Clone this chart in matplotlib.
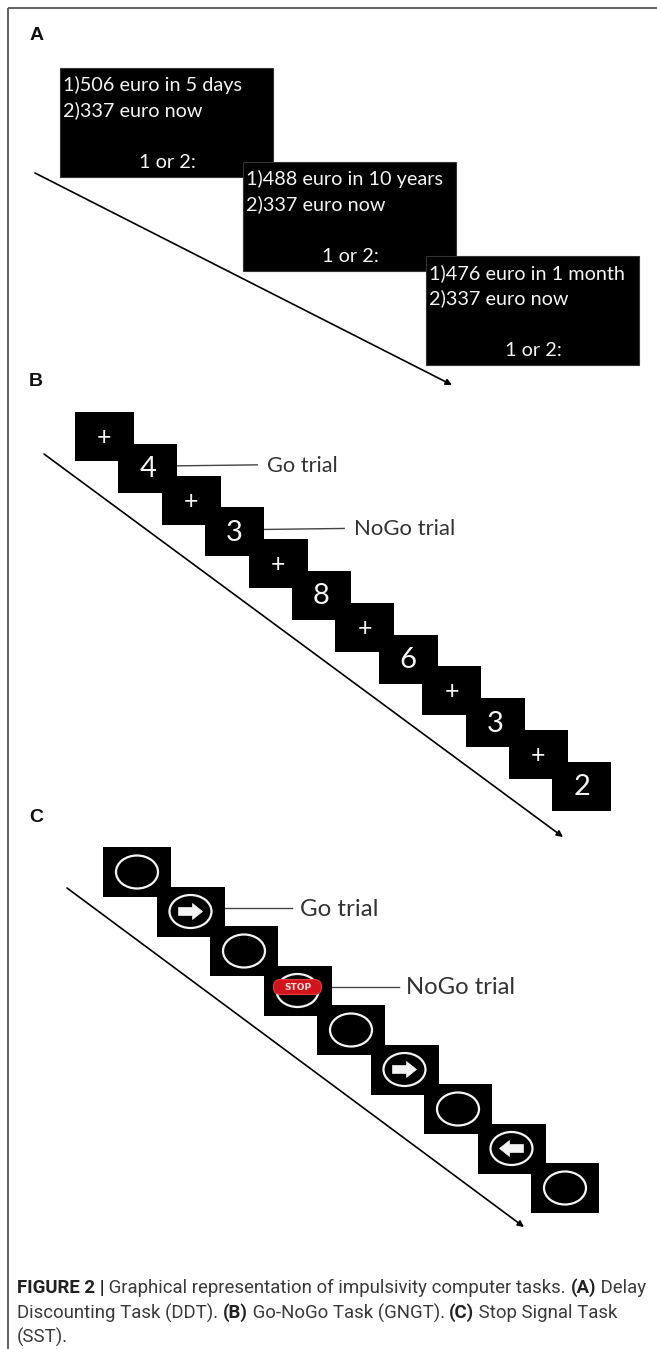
import matplotlib
matplotlib.use("Agg")
import matplotlib.pyplot as plt
from matplotlib.patches import Rectangle, Ellipse, Polygon, FancyBboxPatch

# ---------------- data ----------------
panel_labels = ["A", "B", "C"]
ddt_delayed = ["1)506 euro in 5 days", "1)488 euro in 10 years", "1)476 euro in 1 month"]
ddt_now = ["2)337 euro now", "2)337 euro now", "2)337 euro now"]
ddt_prompt = "1 or 2:"
gng_stimuli = ["+", "4", "+", "3", "+", "8", "+", "6", "+", "3", "+", "2"]
gng_labels = {1: "Go trial", 3: "NoGo trial"}
sst_stimuli = ["circle", "right", "circle", "stop", "circle", "right", "circle", "left", "circle"]
sst_labels = {1: "Go trial", 3: "NoGo trial"}
caption_lines = [
    [("FIGURE 2 |", "bold"), (" Graphical representation of impulsivity computer tasks. ", "normal"),
     ("(A)", "bold"), (" Delay", "normal")],
    [("Discounting Task (DDT). ", "normal"), ("(B)", "bold"), (" Go-NoGo Task (GNGT). ", "normal"),
     ("(C)", "bold"), (" Stop Signal Task", "normal")],
    [("(SST).", "normal")],
]

# ---------------- figure ----------------
W, H = 657, 1349
fig = plt.figure(figsize=(W / 100, H / 100), dpi=100)
ax = fig.add_axes([0, 0, 1, 1])
ax.set_xlim(0, W)
ax.set_ylim(H, 0)
ax.axis("off")
renderer = fig.canvas.get_renderer()

BOXFONT = "Lato"
WHITE = "#f4f4f4"


def fit(t, target_w):
    w = t.get_window_extent(renderer).width
    t.set_fontsize(t.get_fontsize() * target_w / w)
    return t


# frame
ax.plot([8, 8], [H, 8], color="#555555", lw=1.3, solid_capstyle="butt")
ax.plot([8, W], [8, 8], color="#555555", lw=1.3, solid_capstyle="butt")

# panel labels
for lab, (lx, ly) in zip(panel_labels, [(37, 36), (36, 382), (36, 818)]):
    ax.text(lx, ly, lab, fontsize=14, fontweight="bold", family="Liberation Sans",
            ha="center", va="center", color="#111111")

# ---------------- A: delay discounting ----------------
ax0, ay0, adx, ady, aw, ah = 60, 68, 183, 94, 213, 109
ref = ax.text(0, 0, ddt_delayed[0], family=BOXFONT, fontsize=12)
fit(ref, 179)
afs = ref.get_fontsize()
ref.remove()
for i, (l1, l2) in enumerate(zip(ddt_delayed, ddt_now)):
    x0, y0 = ax0 + i * adx, ay0 + i * ady
    ax.add_patch(Rectangle((x0, y0), aw, ah, fc="black", ec="#333333", lw=0.8, zorder=2 + i))
    ax.text(x0 + 3, y0 + 17, l1, family=BOXFONT, fontsize=afs, color=WHITE, ha="left", va="center", zorder=2 + i)
    ax.text(x0 + 3, y0 + 42, l2, family=BOXFONT, fontsize=afs, color=WHITE, ha="left", va="center", zorder=2 + i)
    ax.text(x0 + 107, y0 + 95, ddt_prompt, family=BOXFONT, fontsize=afs, color=WHITE, ha="center", va="center", zorder=2 + i)
ax.annotate("", xy=(452, 385), xytext=(35, 173),
            arrowprops=dict(arrowstyle="-|>", lw=1.2, color="black", mutation_scale=9, shrinkA=0, shrinkB=0))

# ---------------- B: Go-NoGo ----------------
bx0, by0, bdx, bdy, bw, bh = 75, 412, 43.4, 31.8, 59, 49
for i, s in enumerate(gng_stimuli):
    x0, y0 = bx0 + i * bdx, by0 + i * bdy
    ax.add_patch(Rectangle((x0, y0), bw, bh, fc="black", ec="none", zorder=2 + i))
    ax.text(x0 + bw / 2, y0 + bh / 2 + 1, s, family=BOXFONT, fontsize=21 if s != "+" else 18,
            color=WHITE, ha="center", va="center", zorder=2 + i)
for k, lab in gng_labels.items():
    x0, y0 = bx0 + k * bdx, by0 + k * bdy
    sx, sy = x0 + bw, y0 + 0.45 * bh
    ax.plot([sx, sx + 80], [sy, sy - 1], color="#444444", lw=1.0, zorder=1)
    t = ax.text(sx + 90, sy, lab, family=BOXFONT, fontsize=13, color="#333333", ha="left", va="center")
    fit(t, 71 if k == 1 else 101)
ax.annotate("", xy=(563, 837), xytext=(44, 454),
            arrowprops=dict(arrowstyle="-|>", lw=1.2, color="black", mutation_scale=9, shrinkA=0, shrinkB=0))

# ---------------- C: Stop signal ----------------
cx0, cy0, cdx, cdy, cw, ch = 103, 847, 53.5, 39.5, 68, 50
for i, s in enumerate(sst_stimuli):
    x0, y0 = cx0 + i * cdx, cy0 + i * cdy
    z = 2 + i
    ax.add_patch(Rectangle((x0, y0), cw, ch, fc="black", ec="none", zorder=z))
    cx, cy = x0 + cw / 2, y0 + ch / 2
    ax.add_patch(Ellipse((cx, cy), 42, 33, fill=False, ec=WHITE, lw=1.6, zorder=z))
    if s in ("right", "left"):
        d = 1 if s == "right" else -1
        pts = [(-12, -4), (2, -4), (2, -8), (12, 0), (2, 8), (2, 4), (-12, 4)]
        ax.add_patch(Polygon([(cx + d * px, cy + py) for px, py in pts], closed=True,
                             fc=WHITE, ec=WHITE, lw=0.5, zorder=z))
    elif s == "stop":
        ax.add_patch(FancyBboxPatch((cx - 24, cy - 11), 48, 15,
                                    boxstyle="round,pad=0,rounding_size=7",
                                    fc="#d3131b", ec="#e04040", lw=0.8, zorder=z))
        ax.text(cx, cy - 3.5, "STOP", family="DejaVu Sans", fontweight="bold", fontsize=6.5,
                color="#ffdede", ha="center", va="center", zorder=z)
for k, lab in sst_labels.items():
    x0, y0 = cx0 + k * cdx, cy0 + k * cdy
    sx, sy = x0 + cw, y0 + 0.43 * ch
    ax.plot([sx, sx + 67], [sy, sy], color="#444444", lw=1.0, zorder=1)
    t = ax.text(sx + 75, sy + 1, lab, family=BOXFONT, fontsize=14, color="#333333", ha="left", va="center")
    fit(t, 79 if k == 1 else 110)
ax.annotate("", xy=(524, 1227), xytext=(67, 888),
            arrowprops=dict(arrowstyle="-|>", lw=1.2, color="black", mutation_scale=9, shrinkA=0, shrinkB=0))

# ---------------- caption ----------------
CAPFONT = "Roboto"
cap_fs = 11.0
pieces = []
x = 0
for txt, wgt in caption_lines[0]:
    t = ax.text(x, 0, txt, family=CAPFONT, fontweight=wgt, fontsize=cap_fs)
    x += t.get_window_extent(renderer).width
    pieces.append(t)
for t in pieces:
    t.remove()
cap_fs = cap_fs * 626 / x

for li, (line, ly) in enumerate(zip(caption_lines, [1288, 1313, 1337])):
    x = 17
    for txt, wgt in line:
        t = ax.text(x, ly, txt, family=CAPFONT, fontweight=wgt, fontsize=cap_fs,
                    color="#222222" if wgt == "bold" else "#3a3a3a", ha="left", va="center")
        x += t.get_window_extent(renderer).width

fig.savefig("out.png", dpi=100)
